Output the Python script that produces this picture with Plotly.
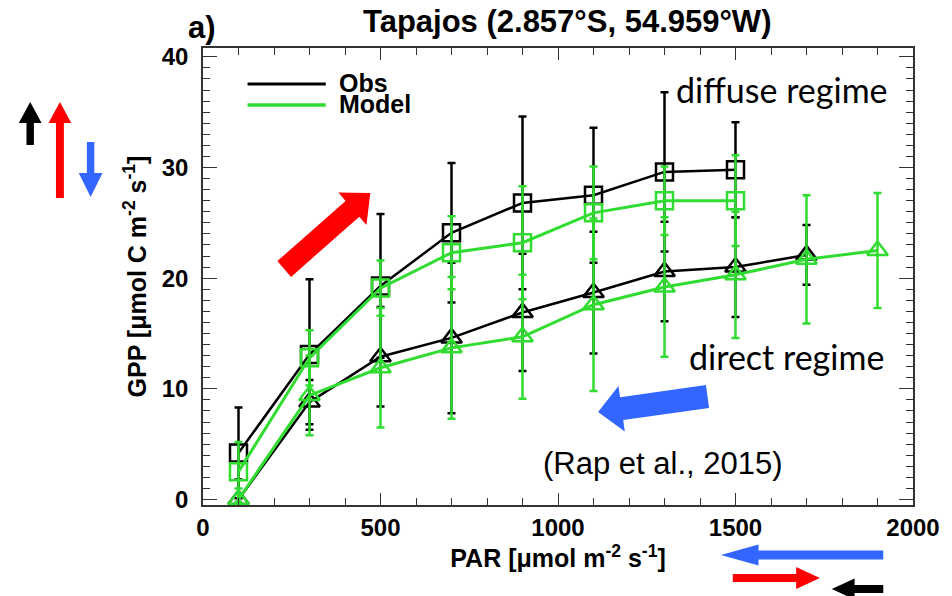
import plotly.graph_objects as go

# PAR bins (umol m-2 s-1)
par_diffuse = [100, 300, 500, 700, 900, 1100, 1300, 1500]
par_direct_obs = [100, 300, 500, 700, 900, 1100, 1300, 1500, 1700]
par_direct_mod = [100, 300, 500, 700, 900, 1100, 1300, 1500, 1700, 1900]

# GPP (umol C m-2 s-1) and 1-sigma spread
obs_diffuse = [4.2, 13.1, 19.3, 24.1, 26.8, 27.5, 29.6, 29.8]
obs_diffuse_err = [4.1, 6.8, 6.5, 6.3, 7.8, 6.1, 7.2, 4.3]
mod_diffuse = [2.5, 12.8, 19.1, 22.3, 23.2, 25.9, 27.0, 27.0]
mod_diffuse_err = [2.7, 2.5, 2.5, 3.3, 5.1, 4.2, 3.1, 4.1]
obs_direct = [0.0, 8.8, 12.9, 14.6, 16.9, 18.7, 20.6, 21.0, 22.1]
obs_direct_err = [1.8, 2.0, 4.5, 6.8, 5.3, 5.5, 4.5, 4.5, 2.7]
mod_direct = [0.0, 9.4, 11.9, 13.7, 14.7, 17.6, 19.2, 20.3, 21.7, 22.5]
mod_direct_err = [1.0, 3.6, 5.4, 6.4, 5.6, 7.8, 6.3, 5.7, 5.8, 5.2]

x_ticks = [0, 500, 1000, 1500, 2000]
y_ticks = [0, 10, 20, 30, 40]

BLACK = "#000000"
GREEN = "#30dc30"
RED = "#ff0000"
BLUE = "#3366ff"

W, H = 952, 596
L, R, T, B = 203, 32, 48, 91
PW, PH = W - L - R, H - T - B


def P(px, py):
    """Page pixel position -> paper coordinates."""
    return (px - L) / PW, (H - B - py) / PH


def arrow(x0, y0, x1, y1, sw, hw, hl):
    """Filled block arrow path (paper coords) from tail (x0,y0) to tip (x1,y1)."""
    dx, dy = x1 - x0, y1 - y0
    n = (dx * dx + dy * dy) ** 0.5
    ux, uy = dx / n, dy / n
    nx, ny = -uy, ux
    bx, by = x1 - ux * hl, y1 - uy * hl
    pts = [
        (x0 + nx * sw / 2, y0 + ny * sw / 2),
        (bx + nx * sw / 2, by + ny * sw / 2),
        (bx + nx * hw / 2, by + ny * hw / 2),
        (x1, y1),
        (bx - nx * hw / 2, by - ny * hw / 2),
        (bx - nx * sw / 2, by - ny * sw / 2),
        (x0 - nx * sw / 2, y0 - ny * sw / 2),
    ]
    path = "M " + " L ".join(f"{P(a, b)[0]:.5f},{P(a, b)[1]:.5f}" for a, b in pts) + " Z"
    return path


def series(x, y, err, color, symbol, lw):
    return go.Scatter(
        x=x, y=y, mode="lines+markers", showlegend=False, cliponaxis=False,
        line=dict(color=color, width=lw),
        marker=dict(symbol=symbol, size=17 if symbol.startswith("square") else 18,
                    color=color, line=dict(color=color, width=2.5)),
        error_y=dict(type="data", array=err, visible=True, color=color,
                     thickness=2.5, width=4),
    )


fig = go.Figure()
fig.add_trace(series(par_diffuse, obs_diffuse, obs_diffuse_err, BLACK, "square-open", 2.5))
fig.add_trace(series(par_direct_obs, obs_direct, obs_direct_err, BLACK, "triangle-up-open", 2.5))
fig.add_trace(series(par_diffuse, mod_diffuse, mod_diffuse_err, GREEN, "square-open", 3))
fig.add_trace(series(par_direct_mod, mod_direct, mod_direct_err, GREEN, "triangle-up-open", 3))

tick_font = dict(family="Liberation Sans", size=24, color="black", weight="bold")
label_font = dict(family="Liberation Sans", size=25, color="black", weight="bold")

fig.update_xaxes(
    range=[0, 2000], tickvals=x_ticks, ticktext=[str(v) for v in x_ticks],
    ticks="inside", ticklen=12, tickwidth=1.3, tickcolor="#333",
    minor=dict(dtick=100, ticks="inside", ticklen=7, tickwidth=1.3, tickcolor="#333"),
    showline=True, linecolor="#333", linewidth=1.5, mirror="allticks",
    showgrid=False, zeroline=False, tickfont=tick_font, ticklabelstandoff=0,
    title=dict(text="PAR [μmol m<sup>-2</sup> s<sup>-1</sup>]", font=label_font, standoff=0),
)
fig.update_yaxes(
    range=[-0.5, 40.8], tickvals=y_ticks, ticktext=[str(v) for v in y_ticks],
    ticks="inside", ticklen=14, tickwidth=1.3, tickcolor="#333",
    minor=dict(dtick=1, tick0=0, ticks="inside", ticklen=7, tickwidth=1.3, tickcolor="#333"),
    showline=True, linecolor="#333", linewidth=1.5, mirror="allticks",
    showgrid=False, zeroline=False, tickfont=tick_font, ticklabelstandoff=8,
    title=dict(text="GPP [μmol C m<sup>-2</sup> s<sup>-1</sup>]", font=label_font, standoff=8),
)

shapes = []
# legend samples
for py, col, lw in [(84, BLACK, 3), (105, GREEN, 3.5)]:
    xa, ya = P(248, py)
    xb, _ = P(327, py)
    shapes.append(dict(type="line", xref="paper", yref="paper", x0=xa, y0=ya, x1=xb, y1=ya,
                       line=dict(color=col, width=lw)))

arrows = [
    # regime shifts inside the panel
    (285, 269, 372, 193, 21, 43, 24, RED),
    (712.5, 396.5, 602, 412, 23, 46, 24, BLUE),
    # GPP change indicators (left)
    (28.5, 145, 28.5, 102, 7.5, 23, 21, BLACK),
    (58.5, 198, 58.5, 102, 8, 23, 21, RED),
    (89.5, 142, 89.5, 197, 7.5, 24, 24, BLUE),
    # PAR change indicators (bottom)
    (890, 555, 726, 555, 9, 21, 38, BLUE),
    (738, 578, 826, 578, 8, 22, 24, RED),
    (890, 589, 838, 589, 8, 21, 23, BLACK),
]
for x0, y0, x1, y1, sw, hw, hl, col in arrows:
    shapes.append(dict(type="path", xref="paper", yref="paper", path=arrow(x0, y0, x1, y1, sw, hw, hl),
                       fillcolor=col, line=dict(width=0), layer="above"))

annotations = []


def note(text, px, py, font, xanchor="center", height=None):
    x, y = P(px, py)
    a = dict(text=text, x=x, y=y, xref="paper", yref="paper", showarrow=False,
             xanchor=xanchor, yanchor="middle", font=font)
    if height:
        a["height"] = height
    annotations.append(a)


title_font = dict(family="Liberation Sans", size=31, color="black", weight="bold")
note("Tapajos (2.857°S, 54.959°W)", 571, 22, title_font)
note("a)", 202, 27, title_font)
legend_font = dict(family="Liberation Sans", size=25, color="black", weight="bold")
note("Obs", 338, 83, legend_font, "left", height=20)
note("Model", 338, 104, legend_font, "left", height=20)
regime_font = dict(family="Lato", size=34, color="black")
note("diffuse regime", 788, 89, regime_font)
note("direct regime", 792, 356, regime_font)
note("(Rap et al., 2015)", 668, 463, dict(family="Liberation Sans", size=31, color="black"))

fig.update_layout(
    width=W, height=H, margin=dict(l=L, r=R, t=T, b=B),
    paper_bgcolor="white", plot_bgcolor="white",
    shapes=shapes, annotations=annotations, showlegend=False,
)

fig.write_html("out.html")
